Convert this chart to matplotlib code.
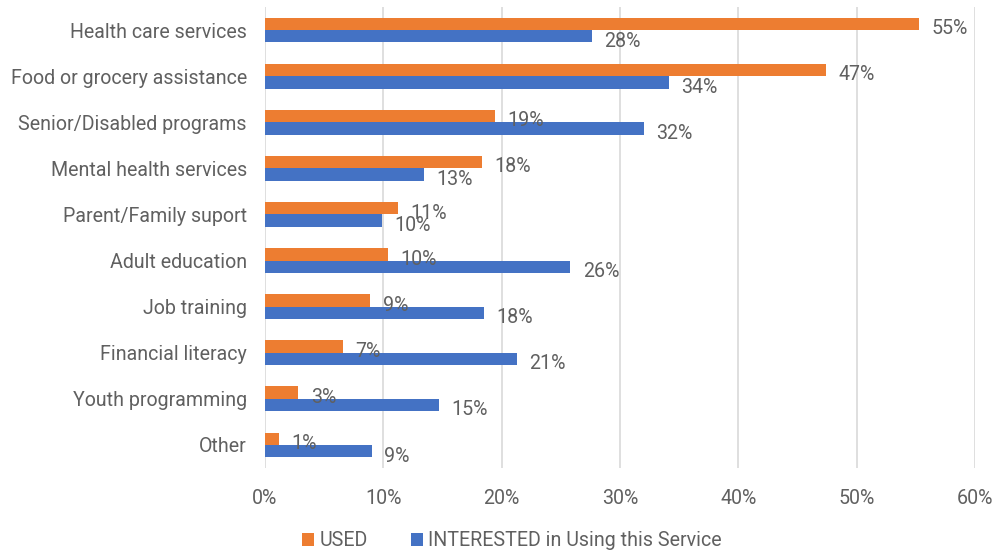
import matplotlib.pyplot as plt
import numpy as np

categories = ['Health care services', 'Food or grocery assistance', 'Senior/Disabled programs',
              'Mental health services', 'Parent/Family suport', 'Adult education',
              'Job training', 'Financial literacy', 'Youth programming', 'Other']
used = [55.3, 47.4, 19.4, 18.3, 11.2, 10.4, 8.9, 6.6, 2.8, 1.2]
interested = [27.6, 34.1, 32.0, 13.4, 9.9, 25.8, 18.5, 21.3, 14.7, 9.0]
xticks = [0, 10, 20, 30, 40, 50, 60]

plt.rcParams['font.family'] = ['Roboto', 'DejaVu Sans']
txt = '#606060'
fs = 14.1

fig = plt.figure(figsize=(9.97, 5.57), dpi=100)
ax = fig.add_axes([265 / 997, 1 - 468 / 557, 710 / 997, 461 / 557])

y = np.arange(len(categories))
h = 0.27
b1 = ax.barh(y - h / 2, used, height=h, color='#ED7D31', label='USED', zorder=3)
b2 = ax.barh(y + h / 2, interested, height=h, color='#4472C4',
             label='INTERESTED in Using this Service', zorder=3)

# value labels, a bit below the bar centre like the original
for bars, vals in ((b1, used), (b2, interested)):
    for bar, v in zip(bars, vals):
        ax.annotate(f'{round(v):.0f}%', (bar.get_width(), bar.get_y() + bar.get_height() / 2),
                    xytext=(9, -3.5), textcoords='offset points', ha='left', va='center',
                    fontsize=fs, color=txt, zorder=4)

ax.set_xlim(0, 60)
ax.set_ylim(len(categories) - 0.5, -0.5)
ax.set_yticks(y)
ax.set_yticklabels(categories, fontsize=fs, color=txt)
ax.set_xticks(xticks)
ax.set_xticklabels([f'{t}%' for t in xticks], fontsize=fs, color=txt)
ax.tick_params(length=0)
ax.tick_params(axis='y', pad=13)
ax.tick_params(axis='x', pad=15)
ax.grid(axis='x', color='#d9d9d9', linewidth=1.2, zorder=0)
for s in ax.spines.values():
    s.set_visible(False)

leg = fig.legend(handles=[b1, b2], loc='center', bbox_to_anchor=(512 / 997, 1 - 541 / 557),
                 ncol=2, frameon=False, fontsize=fs, handlelength=0.6, handleheight=0.6,
                 handletextpad=0.3, columnspacing=2.2)
for t in leg.get_texts():
    t.set_color(txt)

fig.savefig('out.png', dpi=100)
